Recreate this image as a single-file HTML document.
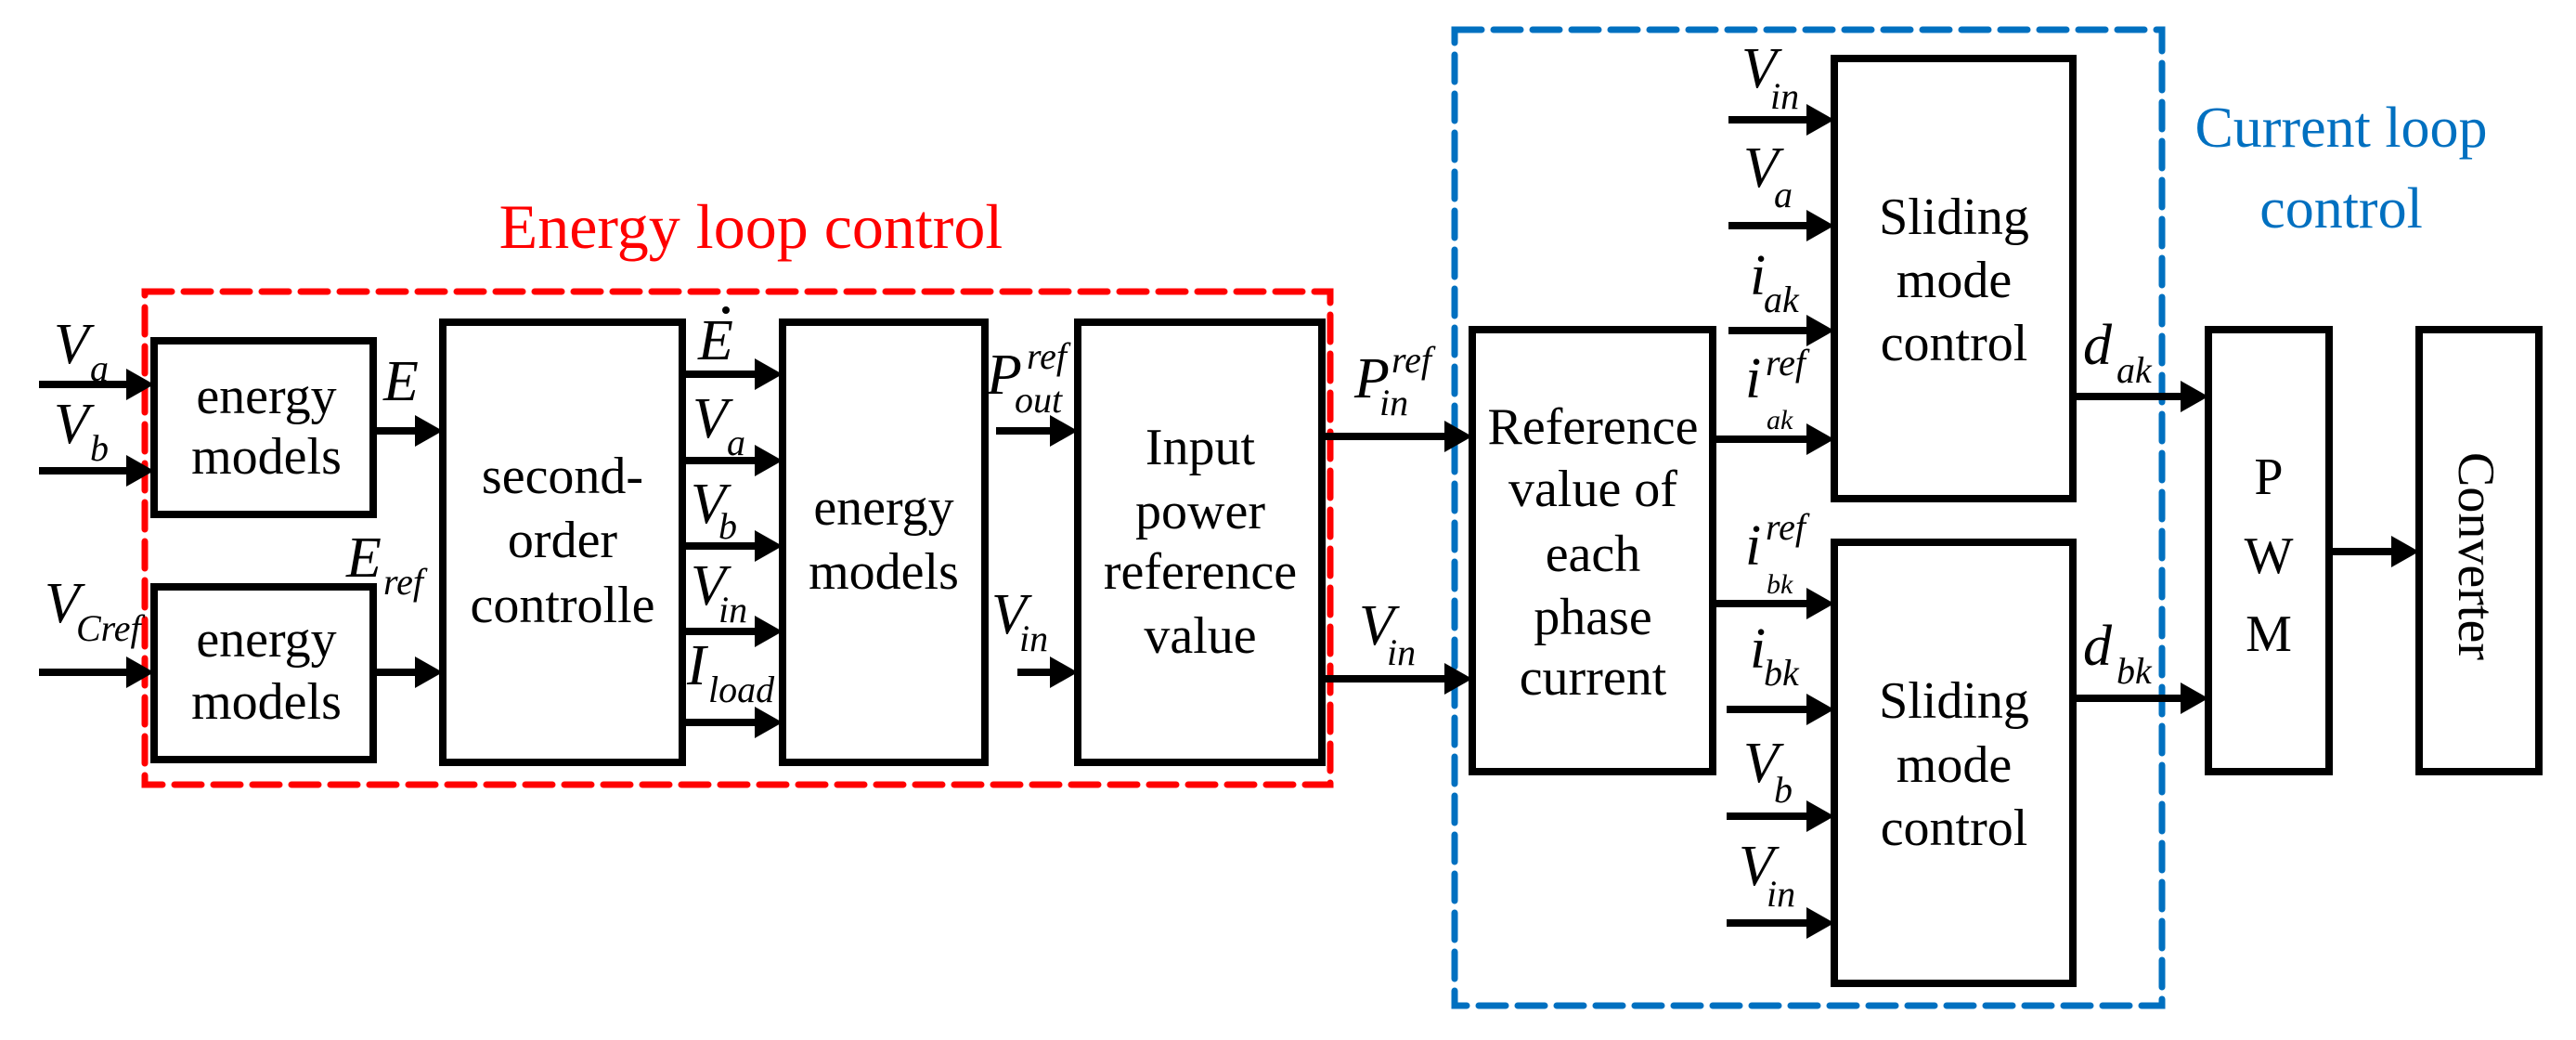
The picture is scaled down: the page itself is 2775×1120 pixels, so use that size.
<!DOCTYPE html>
<html><head><meta charset="utf-8"><style>
html,body{margin:0;padding:0;background:#fff;}
svg, svg text{font-family:"Liberation Serif","Times New Roman",Times,Tinos,"DejaVu Serif",serif;}
.b{font-size:56px;text-anchor:middle;}
.m{font-style:italic;font-size:62px;}
.s{font-style:italic;font-size:40px;}
.ss{font-style:italic;font-size:30px;}
</style></head><body>
<svg width="2775" height="1115" viewBox="0 0 2775 1115" xmlns="http://www.w3.org/2000/svg">
<rect x="156" y="314" width="1277" height="531" fill="none" stroke="#ff0000" stroke-width="7" stroke-dasharray="29 13" stroke-linecap="round"/>
<rect x="1567" y="32" width="762" height="1051" fill="none" stroke="#0070c0" stroke-width="7" stroke-dasharray="29 13" stroke-linecap="round"/>
<text x="809" y="267" fill="#ff0000" font-size="68" text-anchor="middle">Energy loop control</text>
<text x="2522" y="158" fill="#0070c0" font-size="62" text-anchor="middle">Current loop</text>
<text x="2522" y="245" fill="#0070c0" font-size="62" text-anchor="middle">control</text>

<g fill="none" stroke="#000" stroke-width="8">
<rect x="166" y="367" width="236" height="187"/>
<rect x="166" y="632" width="236" height="186"/>
<rect x="477" y="347" width="258" height="474"/>
<rect x="843" y="347" width="218" height="474"/>
<rect x="1161" y="347" width="263" height="474"/>
<rect x="1586" y="355" width="259" height="476"/>
<rect x="1976" y="63" width="257" height="474"/>
<rect x="1976" y="584" width="257" height="475"/>
<rect x="2379" y="355" width="130" height="476"/>
<rect x="2606" y="355" width="129" height="476"/>
</g>

<g stroke="#000" stroke-width="8">
<line x1="42" y1="414" x2="140" y2="414"/>
<line x1="42" y1="507" x2="140" y2="507"/>
<line x1="42" y1="724" x2="140" y2="724"/>
<line x1="402" y1="464" x2="450" y2="464"/>
<line x1="402" y1="724" x2="450" y2="724"/>
<line x1="735" y1="403" x2="816" y2="403"/>
<line x1="735" y1="496" x2="816" y2="496"/>
<line x1="735" y1="588" x2="816" y2="588"/>
<line x1="735" y1="680" x2="816" y2="680"/>
<line x1="735" y1="778" x2="816" y2="778"/>
<line x1="1073" y1="464" x2="1134" y2="464"/>
<line x1="1096" y1="724" x2="1134" y2="724"/>
<line x1="1424" y1="470" x2="1559" y2="470"/>
<line x1="1424" y1="731" x2="1559" y2="731"/>
<line x1="1862" y1="129" x2="1949" y2="129"/>
<line x1="1862" y1="243" x2="1949" y2="243"/>
<line x1="1862" y1="356" x2="1949" y2="356"/>
<line x1="1845" y1="473" x2="1949" y2="473"/>
<line x1="1845" y1="650" x2="1949" y2="650"/>
<line x1="1860" y1="764" x2="1949" y2="764"/>
<line x1="1860" y1="879" x2="1949" y2="879"/>
<line x1="1860" y1="994" x2="1949" y2="994"/>
<line x1="2233" y1="427" x2="2352" y2="427"/>
<line x1="2233" y1="752" x2="2352" y2="752"/>
<line x1="2509" y1="594" x2="2579" y2="594"/>
</g>
<g fill="#000">
<polygon points="136,397 166,414 136,431"/>
<polygon points="136,490 166,507 136,524"/>
<polygon points="136,707 166,724 136,741"/>
<polygon points="447,447 477,464 447,481"/>
<polygon points="447,707 477,724 447,741"/>
<polygon points="813,386 843,403 813,420"/>
<polygon points="813,479 843,496 813,513"/>
<polygon points="813,571 843,588 813,605"/>
<polygon points="813,663 843,680 813,697"/>
<polygon points="813,761 843,778 813,795"/>
<polygon points="1131,447 1161,464 1131,481"/>
<polygon points="1131,707 1161,724 1131,741"/>
<polygon points="1556,453 1586,470 1556,487"/>
<polygon points="1556,714 1586,731 1556,748"/>
<polygon points="1946,112 1976,129 1946,146"/>
<polygon points="1946,226 1976,243 1946,260"/>
<polygon points="1946,339 1976,356 1946,373"/>
<polygon points="1946,456 1976,473 1946,490"/>
<polygon points="1946,633 1976,650 1946,667"/>
<polygon points="1946,747 1976,764 1946,781"/>
<polygon points="1946,862 1976,879 1946,896"/>
<polygon points="1946,977 1976,994 1946,1011"/>
<polygon points="2349,410 2379,427 2349,444"/>
<polygon points="2349,735 2379,752 2349,769"/>
<polygon points="2576,577 2606,594 2576,611"/>
</g>

<g>
<text class="b" x="287" y="445">energy</text>
<text class="b" x="287" y="510">models</text>
<text class="b" x="287" y="707">energy</text>
<text class="b" x="287" y="774">models</text>
<text class="b" x="606" y="531">second-</text>
<text class="b" x="606" y="600">order</text>
<text class="b" x="606" y="670">controlle</text>
<text class="b" x="952" y="565">energy</text>
<text class="b" x="952" y="634">models</text>
<text class="b" x="1293" y="500">Input</text>
<text class="b" x="1293" y="569">power</text>
<text class="b" x="1293" y="634">reference</text>
<text class="b" x="1293" y="703">value</text>
<text class="b" x="1716" y="478">Reference</text>
<text class="b" x="1716" y="545">value of</text>
<text class="b" x="1716" y="615">each</text>
<text class="b" x="1716" y="683">phase</text>
<text class="b" x="1716" y="748">current</text>
<text class="b" x="2105" y="252">Sliding</text>
<text class="b" x="2105" y="320">mode</text>
<text class="b" x="2105" y="388">control</text>
<text class="b" x="2105" y="773">Sliding</text>
<text class="b" x="2105" y="842">mode</text>
<text class="b" x="2105" y="910">control</text>
<text class="b" x="2444" y="532" font-size="62">P</text>
<text class="b" x="2444" y="617" font-size="62">W</text>
<text class="b" x="2444" y="701" font-size="62">M</text>
<text class="b" font-size="64" transform="translate(2649,599) rotate(90)">Converter</text>

<text class="m" x="58" y="391">V</text><text class="s" x="97" y="410">a</text>
<text class="m" x="58" y="477">V</text><text class="s" x="97" y="496">b</text>
<text class="m" x="48" y="670">V</text><text class="s" x="82" y="690">Cref</text>
<text class="m" x="413" y="431">E</text>
<text class="m" x="373" y="621">E</text><text class="s" x="413" y="640">ref</text>
<text class="m" x="752" y="387">E</text><circle cx="782" cy="334" r="4" fill="#000"/>
<text class="m" x="746" y="471">V</text><text class="s" x="783" y="490">a</text>
<text class="m" x="744" y="563">V</text><text class="s" x="774" y="580">b</text>
<text class="m" x="744" y="651">V</text><text class="s" x="774" y="670">in</text>
<text class="m" x="740" y="737">I</text><text class="s" x="763" y="756">load</text>
<text class="m" x="1063" y="424">P</text><text class="s" x="1106" y="397">ref</text><text class="s" x="1093" y="444">out</text>
<text class="m" x="1068" y="682">V</text><text class="s" x="1098" y="701">in</text>
<text class="m" x="1459" y="428">P</text><text class="s" x="1499" y="401">ref</text><text class="s" x="1486" y="447">in</text>
<text class="m" x="1464" y="694">V</text><text class="s" x="1494" y="716">in</text>
<text class="m" x="1876" y="94">V</text><text class="s" x="1907" y="117">in</text>
<text class="m" x="1878" y="201">V</text><text class="s" x="1911" y="223">a</text>
<text class="m" x="1885" y="317">i</text><text class="s" x="1900" y="336">ak</text>
<text class="m" x="1880" y="428">i</text><text class="s" x="1902" y="404">ref</text><text class="ss" x="1903" y="462">ak</text>
<text class="m" x="1880" y="608">i</text><text class="s" x="1902" y="581">ref</text><text class="ss" x="1903" y="639">bk</text>
<text class="m" x="1885" y="719">i</text><text class="s" x="1900" y="738">bk</text>
<text class="m" x="1878" y="842">V</text><text class="s" x="1911" y="864">b</text>
<text class="m" x="1873" y="953">V</text><text class="s" x="1903" y="976">in</text>
<text class="m" x="2244" y="392">d</text><text class="s" x="2280" y="412">ak</text>
<text class="m" x="2244" y="716">d</text><text class="s" x="2280" y="736">bk</text>
</g>
</svg>
</body></html>
